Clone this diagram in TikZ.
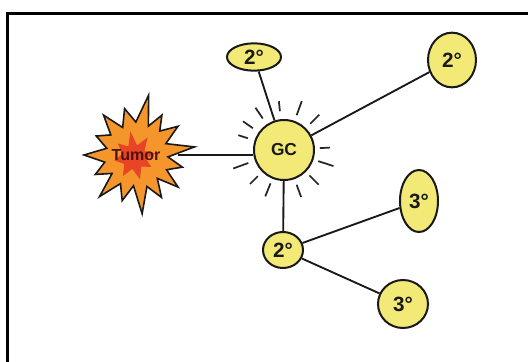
\documentclass[tikz,border=0pt]{standalone}
\usepackage{fontspec}
\newfontfamily\lblfont{Liberation Sans}
\usetikzlibrary{calc,shapes.geometric}
\definecolor{cellyellow}{RGB}{242,233,118}
\definecolor{tumororange}{RGB}{245,150,45}
\definecolor{tumorred}{RGB}{232,68,38}
\definecolor{tumortext}{RGB}{80,18,12}
\definecolor{inktext}{RGB}{25,25,25}
\tikzset{
  cell/.style={ellipse, draw=black!90, line width=1.5pt, fill=cellyellow, inner sep=0pt,
               text=inktext, font=\lblfont\bfseries\fontsize{15.5}{15.5}\selectfont},
  link/.style={line width=1.4pt, black!90},
  ray/.style={line width=1.3pt, black!85},
  frameline/.style={line width=1.8pt, black},
  burst/.style={draw=black!90, line width=1.2pt, fill=tumororange, line join=miter},
  innerburst/.style={fill=tumorred, draw=none}
}
\begin{document}
\begin{tikzpicture}[x=0.75pt,y=0.75pt]
\useasboundingbox (0,0) rectangle (528,361);
\fill[white] (0,0) rectangle (528,361);
% frame
\draw[frameline] (7.5,-2) -- (7.5,347.5) -- (530,347.5);

% tumor starburst
\begin{scope}[shift={(137,206)}]
\draw[burst] (8:58) -- (21.5:31) -- (35:50) -- (46.5:33) -- (58:47) -- (68.5:31)
  -- (79:61) -- (92:33) -- (105:48) -- (117.5:31) -- (130:52) -- (142.5:33)
  -- (155:45) -- (167.5:31) -- (180:53) -- (192.5:33) -- (205:46) -- (216.5:31)
  -- (228:56) -- (240:33) -- (252:48) -- (263.5:31) -- (275:59) -- (287.5:33)
  -- (300:49) -- (311:31) -- (322:52) -- (333.5:33) -- (345:47) -- (356.5:31) -- cycle;
\end{scope}
\begin{scope}[shift={(134,204)}]
\fill[innerburst] (10:22) -- (30:12) -- (55:24) -- (75:12) -- (98:26) -- (118:12)
  -- (140:21) -- (165:12) -- (190:20) -- (215:12) -- (240:22) -- (262:12)
  -- (285:23) -- (308:12) -- (330:20) -- (352:12) -- cycle;
\end{scope}
\node[circle, minimum size=63pt, inner sep=0pt, text=tumortext,
      font=\lblfont\bfseries\fontsize{12}{12}\selectfont] (tumor) at (136,206) {Tumor};

% cells
\node[cell, circle, minimum size=45pt, font=\lblfont\bfseries\fontsize{13}{13}\selectfont] (gc) at (284,211) {GC};
\node[cell, minimum width=40.5pt, minimum height=20.5pt] (s1) at (254,304) {2°};
\node[cell, minimum width=36pt, minimum height=41pt] (s2) at (452,301) {2°};
\node[cell, minimum width=30pt, minimum height=27pt] (s3) at (283,111) {2°};
\node[cell, minimum width=28.5pt, minimum height=46.5pt] (t1) at (419,160) {3°};
\node[cell, minimum width=37.5pt, minimum height=36pt] (t2) at (403,57) {3°};

% rays around GC
\foreach \a/\ri/\ro in {96/39/49, 70/37/52, 45/37/50, 3/36/46, -18/36/52,
    -45/36/49, -70/37/50, -112/36/50, -135/37/48, -160/38/54, 162/38/48,
    145/38/50, 124/38/51}
  \draw[ray] ($(gc.center)+(\a:\ri)$) -- ($(gc.center)+(\a:\ro)$);

% connectors
\draw[link] (tumor.east) -- (tumor.east -| gc.west);
\draw[link] (s1) -- (gc);
\draw[link] (s2) -- (gc);
\draw[link] (gc) -- (s3);
\draw[link] (s3) -- (t1);
\draw[link] (s3) -- (t2);
\end{tikzpicture}
\end{document}
